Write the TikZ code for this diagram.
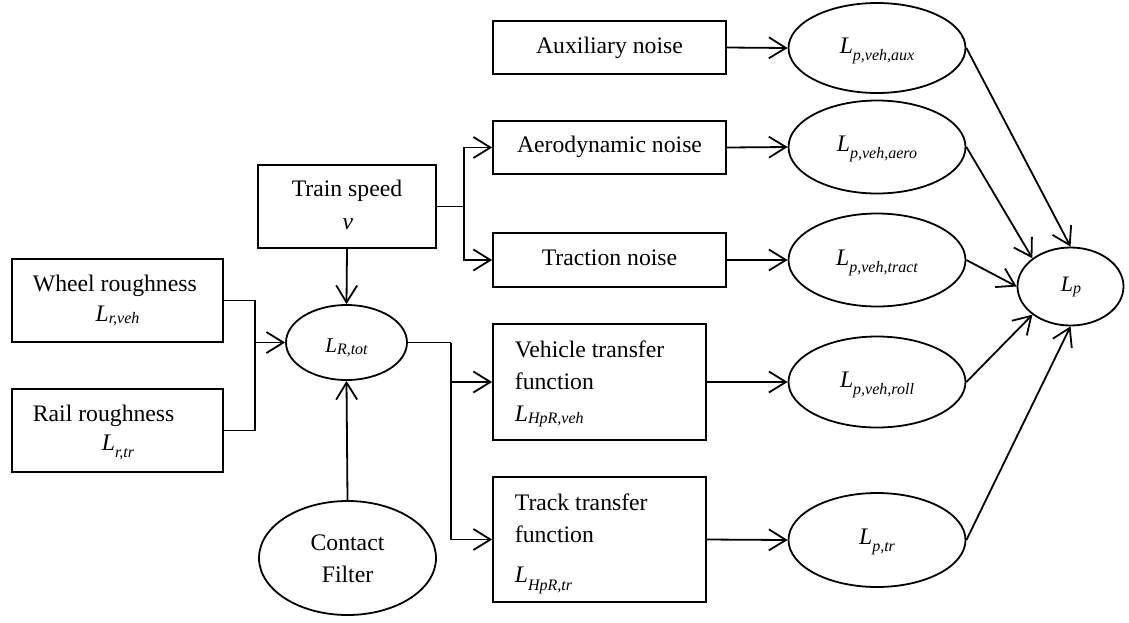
\documentclass[tikz,border=0pt]{standalone}
\usepackage{fontspec}
\setmainfont{Liberation Serif}
\usetikzlibrary{shapes.geometric,arrows.meta}
% italic L with an italic subscript: #1 size of L, #2 drop of subscript, #3 subscript
\newcommand\Lsym[3]{{\fontsize{#1}{#1}\selectfont\itshape L}\raisebox{-#2}{\fontsize{16}{16}\selectfont\itshape #3}}
\begin{document}
\begin{tikzpicture}[x=1pt,y=-1pt,line width=1.8pt,
  box/.style={draw,rectangle,inner sep=0pt},
  oval/.style={draw,ellipse,inner sep=0pt},
  lbl/.style={anchor=base,inner sep=0pt,font=\fontsize{23.7}{32}\selectfont},
  lblw/.style={lbl,anchor=base west},
  arr/.style={-{Straight Barb[length=17pt,width=21pt]}}]
\useasboundingbox (0,0) rectangle (1129,622);

% input boxes
\node[box,minimum width=211pt,minimum height=83pt] (wheel) at (117.5,300.5) {};
\node[lblw] (wheelA) at (32,291.7) {Wheel roughness};
\node[lbl] (wheelB) at (117.5,321.7) {\Lsym{23.7}{2pt}{r,veh}};

\node[box,minimum width=211pt,minimum height=83pt] (rail) at (117.5,430.5) {};
\node[lblw] (railA) at (32,421.7) {Rail roughness};
\node[lbl] (railB) at (118,450) {\Lsym{23.7}{7pt}{r,tr}};

\node[box,minimum width=178pt,minimum height=83pt] (speed) at (347,206.5) {};
\node[lbl] (speedA) at (347,196.7) {Train speed};
\node[lbl] (speedB) at (348,229.3) {\itshape v};

% total roughness and contact filter
\node[oval,minimum width=121pt,minimum height=75pt] (LR) at (346.5,342.5) {};
\node[lbl] (LRt) at (346.5,352) {\Lsym{21}{2pt}{R,tot}};

\node[oval,minimum width=177pt,minimum height=114pt] (cf) at (347.5,558) {};
\node[lbl] (cfA) at (347.5,550) {Contact};
\node[lbl] (cfB) at (347.5,582.3) {Filter};

% noise sources
\node[box,minimum width=233pt,minimum height=53pt] (aux) at (609.5,47.5) {};
\node[lbl] (auxT) at (609.5,53.3) {Auxiliary noise};
\node[box,minimum width=233pt,minimum height=53pt] (aero) at (609.5,147.5) {};
\node[lbl] (aeroT) at (609.5,152.7) {Aerodynamic noise};
\node[box,minimum width=233pt,minimum height=54pt] (trac) at (609.5,260) {};
\node[lbl] (tracT) at (609.5,265.7) {Traction noise};

% transfer functions
\node[box,minimum width=213pt,minimum height=116pt] (veh) at (599.5,382) {};
\node[lblw] (vehA) at (514,357.3) {Vehicle transfer};
\node[lblw] (vehB) at (514,389.3) {function};
\node[lblw] (vehC) at (514,421.7) {\Lsym{23.7}{2pt}{HpR,veh}};

\node[box,minimum width=213pt,minimum height=125pt] (track) at (599.5,539.5) {};
\node[lblw] (trackA) at (514,510) {Track transfer};
\node[lblw] (trackB) at (514,542.7) {function};
\node[lblw] (trackC) at (514,582) {\Lsym{23.7}{8pt}{HpR,tr}};

% partial sound pressure levels
\node[oval,minimum width=177pt,minimum height=90pt] (Eaux) at (877,48) {};
\node[lbl] (EauxT) at (877,53.3) {\Lsym{23.7}{7pt}{p,veh,aux}};
\node[oval,minimum width=177pt,minimum height=93pt] (Eaero) at (877,147) {};
\node[lbl] (EaeroT) at (877,151.7) {\Lsym{23.7}{7pt}{p,veh,aero}};
\node[oval,minimum width=177pt,minimum height=93pt] (Etract) at (877,260) {};
\node[lbl] (EtractT) at (877,265) {\Lsym{23.7}{7pt}{p,veh,tract}};
\node[oval,minimum width=177pt,minimum height=91pt] (Eroll) at (877,382) {};
\node[lbl] (ErollT) at (877,387) {\Lsym{23.7}{7pt}{p,veh,roll}};
\node[oval,minimum width=177pt,minimum height=94pt] (Etr) at (877,540) {};
\node[lbl] (EtrT) at (877,544) {\Lsym{23.7}{7pt}{p,tr}};

% total level
\node[oval,minimum width=106pt,minimum height=78pt] (Lp) at (1070.5,286.5) {};
\node[lbl] (LpT) at (1071,291.7) {\Lsym{22}{2pt}{p}};

% junction points
\coordinate (jL) at (255,342.5);
\coordinate (jt) at (464,206.5);
\coordinate (jr) at (451,342.5);

% roughness path
\draw (wheel.east) -| (jL);
\draw (rail.east) -| (jL);
\draw[arr] (jL) -- (LR.west);
\draw[arr] (speed.south) -- (LR.north);
\draw[arr] (cf.north) -- (LR.south);

% speed feeds noise sources
\draw (speed.east) -- (jt);
\draw[arr] (jt) |- (aero.west);
\draw[arr] (jt) |- (trac.west);

% roughness feeds transfer functions
\draw (LR.east) -- (jr);
\draw[arr] (jr) |- (veh.west);
\draw[arr] (jr) |- (track.west);

% sources to levels
\draw[arr] (aux.east) -- (Eaux.west);
\draw[arr] (aero.east) -- (Eaero.west);
\draw[arr] (trac.east) -- (Etract.west);
\draw[arr] (veh.east) -- (Eroll.west);
\draw[arr] (track.east) -- (Etr.west);

% levels to total
\draw[arr] (Eaux.east) -- (Lp.north);
\draw[arr] (Eaero.east) -- (Lp.north west);
\draw[arr] (Etract.east) -- (Lp.west);
\draw[arr] (Eroll.east) -- (Lp.south west);
\draw[arr] (Etr.east) -- (Lp.south);
\end{tikzpicture}
\end{document}
